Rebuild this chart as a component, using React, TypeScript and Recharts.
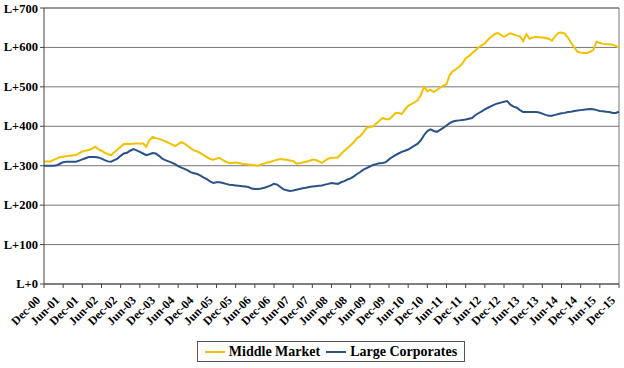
import React from "react";
import { LineChart, Line, XAxis, YAxis, CartesianGrid, ReferenceLine } from "recharts";

// Monthly spreads (bps over LIBOR), Dec-00 .. Dec-15
const middleMarket: number[] = [
  310, 311, 311, 315, 318, 322, 323, 324, 325, 326, 327, 332, 336, 338, 340, 343, 348, 342, 338, 333,
  329, 327, 334, 341, 348, 355, 356, 355, 356, 357, 356, 357, 348, 365, 373, 370, 368, 365, 362, 358,
  354, 350, 355, 360, 356, 350, 344, 339, 336, 332, 327, 322, 317, 315, 318, 320, 314, 310, 307, 307,
  308, 307, 305, 304, 303, 302, 301, 300, 303, 306, 308, 310, 313, 315, 317, 316, 315, 313, 312, 305,
  306, 308, 310, 312, 315, 315, 311, 307, 313, 318, 320, 320, 321, 330, 338, 345, 352, 360, 370, 375,
  385, 396, 398, 400, 407, 414, 421, 418, 418, 425, 433, 434, 431, 442, 452, 456, 461, 466, 480, 500,
  489, 493, 487, 492, 498, 503, 507, 530, 540, 545, 551, 560, 572, 578, 585, 592, 600, 605, 610, 620,
  627, 633, 637, 632, 627, 632, 636, 633, 630, 628, 616, 634, 622, 625, 627, 626, 625, 624, 622, 617,
  628, 637, 638, 635, 625, 612, 600, 589, 587, 586, 586, 589, 594, 615, 611, 609, 608, 608, 607, 604,
  599,
];

const largeCorporates: number[] = [
  300, 300, 300, 300, 301, 305, 309, 310, 310, 310, 310, 313, 316, 319, 322, 322, 322, 321, 318, 314,
  311, 310, 314, 318, 325, 331, 333, 338, 342, 339, 335, 331, 327, 329, 332, 331, 325, 318, 314, 311,
  308, 304, 299, 295, 292, 288, 283, 281, 279, 275, 270, 266, 260, 256, 258, 258, 256, 254, 252, 251,
  250, 249, 248, 247, 246, 242, 241, 241, 242, 244, 247, 250, 254, 252, 246, 240, 238, 236, 237, 239,
  241, 243, 244, 246, 247, 248, 249, 250, 252, 254, 256, 255, 254, 258, 261, 265, 268, 273, 279, 284,
  290, 294, 298, 302, 304, 306, 307, 309, 316, 322, 327, 331, 335, 338, 341, 346, 351, 356, 365, 378,
  388, 392, 388, 386, 391, 396, 402, 408, 412, 414, 415, 416, 417, 419, 421, 428, 433, 438, 443, 447,
  451, 455, 458, 460, 462, 464, 455, 450, 447, 441, 436, 436, 436, 436, 436, 435, 432, 429, 427, 427,
  429, 431, 433, 434, 436, 437, 439, 440, 441, 442, 443, 444, 443, 441, 439, 438, 437, 436, 434, 434,
  437,
];

const tickLabels: string[] = [
  "Dec-00", "Jun-01", "Dec-01", "Jun-02", "Dec-02", "Jun-03", "Dec-03", "Jun-04", "Dec-04", "Jun-05",
  "Dec-05", "Jun-06", "Dec-06", "Jun-07", "Dec-07", "Jun-08", "Dec-08", "Jun-09", "Dec-09", "Jun-10",
  "Dec-10", "Jun-11", "Dec-11", "Jun-12", "Dec-12", "Jun-13", "Dec-13", "Jun-14", "Dec-14", "Jun-15",
  "Dec-15",
];

const yTicks: number[] = [0, 100, 200, 300, 400, 500, 600, 700];

const seriesNames = { mm: "Middle Market", lc: "Large Corporates" };

const YELLOW = "#F2C200";
const BLUE = "#2A5288";
const FONT = "Liberation Serif";

const data = middleMarket.map((v, i) => ({ m: i, mm: v, lc: largeCorporates[i] }));
const xTicks = tickLabels.map((_, i) => i * 6);

const XTick = (props: any) => {
  const { x, y, payload } = props;
  const label = tickLabels[Math.round(payload.value / 6)];
  const bx = x - 3;
  const by = y + 11;
  return (
    <text
      x={bx}
      y={by}
      transform={`rotate(-45 ${bx} ${by})`}
      textAnchor="end"
      style={{ fontFamily: FONT, fontWeight: 700, fontSize: 12 }}
      fill="#000"
    >
      {label}
    </text>
  );
};

const YTick = (props: any) => {
  const { x, y, payload } = props;
  return (
    <text
      x={x}
      y={y}
      dy={4}
      textAnchor="end"
      style={{ fontFamily: FONT, fontWeight: 700, fontSize: 12.5 }}
      fill="#000"
    >
      {`L+${payload.value}`}
    </text>
  );
};

export default function App() {
  return (
    <div style={{ position: "absolute", left: 0, top: 0, width: 624, height: 368, background: "#fff" }}>
      <LineChart
        width={624}
        height={368}
        data={data}
        margin={{ top: 8, right: 5, bottom: 34, left: 6 }}
      >
        <CartesianGrid horizontal={true} vertical={false} stroke="#777" strokeWidth={1} />
        <XAxis
          dataKey="m"
          type="number"
          domain={[0, 180]}
          ticks={xTicks}
          interval={0}
          height={50}
          tickSize={4}
          stroke="#444"
          tick={<XTick />}
        />
        <YAxis
          type="number"
          domain={[0, 700]}
          ticks={yTicks}
          width={38}
          tickSize={4}
          stroke="#444"
          tick={<YTick />}
        />
        <ReferenceLine x={180} stroke="#777" />
        <ReferenceLine y={700} stroke="#777" />
        <Line
          type="linear"
          dataKey="mm"
          name={seriesNames.mm}
          stroke={YELLOW}
          strokeWidth={2}
          dot={false}
          isAnimationActive={false}
        />
        <Line
          type="linear"
          dataKey="lc"
          name={seriesNames.lc}
          stroke={BLUE}
          strokeWidth={2}
          dot={false}
          isAnimationActive={false}
        />
      </LineChart>
      <div
        style={{
          position: "absolute",
          left: 197,
          top: 341,
          width: 268,
          height: 21,
          border: "1px solid #555",
          boxSizing: "border-box",
          display: "flex",
          alignItems: "center",
          justifyContent: "center",
          fontFamily: FONT,
          fontWeight: 700,
          fontSize: 14,
          color: "#000",
          whiteSpace: "nowrap",
        }}
      >
        <span style={{ display: "inline-block", width: 20, height: 2, background: YELLOW, marginRight: 4 }} />
        <span>{seriesNames.mm}</span>
        <span style={{ display: "inline-block", width: 20, height: 2, background: BLUE, marginLeft: 6, marginRight: 4 }} />
        <span>{seriesNames.lc}</span>
      </div>
    </div>
  );
}
